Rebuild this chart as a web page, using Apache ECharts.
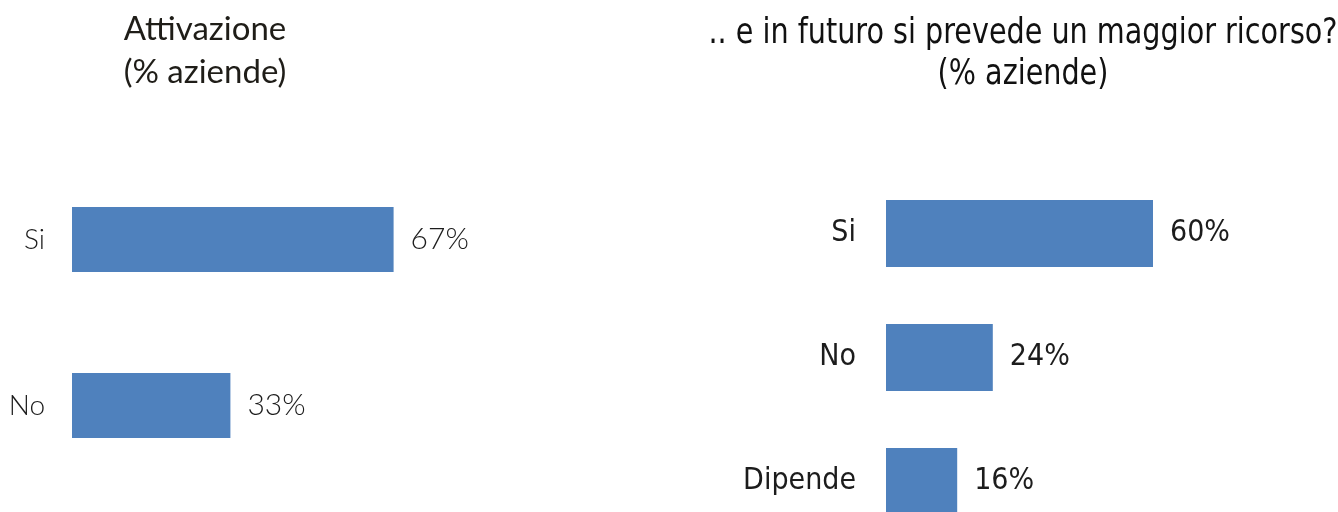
<!DOCTYPE html>
<html>
<head>
<meta charset="utf-8">
<script src="https://cdn.jsdelivr.net/npm/echarts@6/dist/echarts.min.js"></script>
<style>
  html, body { margin: 0; padding: 0; background: #ffffff; }
  #chart { width: 1338px; height: 512px; }
</style>
</head>
<body>
<div id="chart"></div>
<script>
// Survey answers, percent of companies
const attivazioneCategories = ['Si', 'No'];
const attivazioneValues = [67, 33];

const futuroCategories = ['Si', 'No', 'Dipende'];
const futuroValues = [60, 24, 16];

const titleLeft = 'Attivazione\n(% aziende)';
const titleRight = '.. e in futuro si prevede un maggior ricorso?\n(% aziende)';

const barColor = '#4F81BD';
const textColor = '#1c1c1c';
const fontLeft = 'Lato, "Open Sans", sans-serif';
const fontRight = '"DejaVu Sans Condensed", "Liberation Sans", sans-serif';

const chart = echarts.init(document.getElementById('chart'), null, { renderer: 'canvas' });

chart.setOption({
  backgroundColor: '#ffffff',
  animation: false,
  title: [
    {
      text: titleLeft,
      left: 200,
      top: 3,
      textAlign: 'center',
      textStyle: { fontFamily: fontLeft, fontSize: 33, fontWeight: 'normal', color: '#1f1d18', lineHeight: 43 }
    }
  ],
  // the right-hand heading uses a horizontally narrowed text so the long question fits
  graphic: [
    {
      type: 'text',
      x: 1023,
      y: 13,
      scaleX: 0.91,
      style: {
        text: titleRight,
        font: '35px ' + fontRight,
        fill: '#111111',
        align: 'center',
        verticalAlign: 'top',
        lineHeight: 41
      }
    }
  ],
  grid: [
    { left: 72, top: 156.5, width: 480, height: 332, outerBoundsMode: 'none', containLabel: false },
    { left: 886, top: 171.5, width: 445, height: 372, outerBoundsMode: 'none', containLabel: false }
  ],
  xAxis: [
    { gridIndex: 0, type: 'value', min: 0, max: 100, show: false },
    { gridIndex: 1, type: 'value', min: 0, max: 100, show: false }
  ],
  yAxis: [
    {
      gridIndex: 0, type: 'category', inverse: true, data: attivazioneCategories,
      axisLine: { show: false }, axisTick: { show: false }, splitLine: { show: false },
      axisLabel: { margin: 27, color: textColor, fontFamily: fontLeft, fontSize: 28, fontWeight: 300 }
    },
    {
      gridIndex: 1, type: 'category', inverse: true, data: futuroCategories,
      axisLine: { show: false }, axisTick: { show: false }, splitLine: { show: false },
      axisLabel: { margin: 30, color: textColor, fontFamily: fontRight, fontSize: 30 }
    }
  ],
  series: [
    {
      type: 'bar', xAxisIndex: 0, yAxisIndex: 0, data: attivazioneValues,
      barWidth: 65,
      itemStyle: { color: barColor },
      label: {
        show: true, position: 'right', distance: 17, formatter: '{c}%',
        color: textColor, fontFamily: fontLeft, fontSize: 30, fontWeight: 300
      }
    },
    {
      type: 'bar', xAxisIndex: 1, yAxisIndex: 1, data: futuroValues,
      barWidth: 67,
      itemStyle: { color: barColor },
      label: {
        show: true, position: 'right', distance: 17, formatter: '{c}%',
        color: textColor, fontFamily: fontRight, fontSize: 30
      }
    }
  ]
});
</script>
</body>
</html>
